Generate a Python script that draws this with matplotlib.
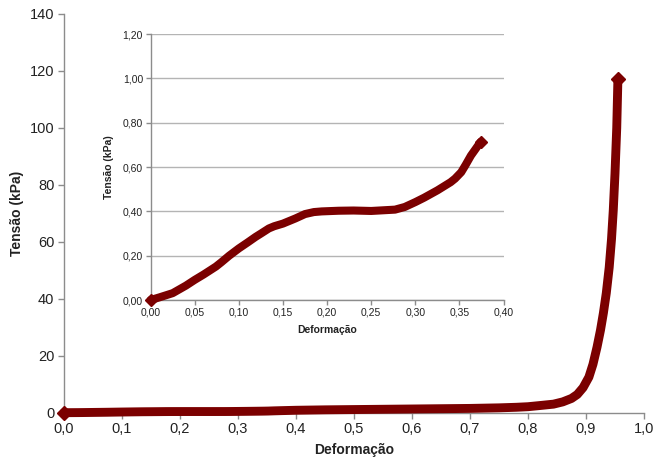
import matplotlib
matplotlib.use("Agg")
import matplotlib.pyplot as plt
from matplotlib.ticker import FuncFormatter, MultipleLocator

plt.rcParams['font.family'] = ['Liberation Sans', 'DejaVu Sans']

# Compression test: strain (-) vs stress (kPa)
strain = [0.000, 0.010, 0.025, 0.040, 0.050, 0.060, 0.074, 0.080, 0.089, 0.100,
          0.110, 0.119, 0.125, 0.134, 0.140, 0.150, 0.164, 0.175, 0.185, 0.194,
          0.213, 0.230, 0.250, 0.277, 0.288, 0.300, 0.310, 0.325, 0.340, 0.345,
          0.352, 0.357, 0.363, 0.368, 0.374,
          0.400, 0.450, 0.500, 0.600, 0.700, 0.750, 0.780, 0.800, 0.820, 0.844,
          0.860, 0.875, 0.885, 0.895, 0.905, 0.912, 0.919, 0.925, 0.930, 0.935,
          0.940, 0.944, 0.947, 0.950, 0.953, 0.955]
stress = [0.000, 0.012, 0.031, 0.065, 0.091, 0.115, 0.151, 0.170, 0.200, 0.233,
          0.260, 0.285, 0.300, 0.323, 0.333, 0.345, 0.368, 0.388, 0.397, 0.400,
          0.403, 0.404, 0.402, 0.408, 0.420, 0.442, 0.462, 0.495, 0.532, 0.548,
          0.577, 0.610, 0.652, 0.680, 0.714,
          0.85, 1.0, 1.1, 1.3, 1.5, 1.7, 1.9, 2.1, 2.5, 3.0,
          3.8, 5.0, 6.4, 8.8, 12.5, 17.0, 23.0, 29.0, 35.0, 42.0,
          51.0, 61.0, 71.0, 84.0, 100.0, 117.0]

# Detail view covers the initial region of the test
detail_limit = 0.375
strain_detail = [s for s in strain if s <= detail_limit]
stress_detail = stress[:len(strain_detail)]

MAROON = '#7b0000'
SPINE = '#8c8c8c'
TEXT = '#222222'


def comma(decimals):
    return FuncFormatter(lambda v, pos: f"{v:.{decimals}f}".replace('.', ','))


fig = plt.figure(figsize=(6.54, 4.65), dpi=100)

# Main axes
ax = fig.add_axes([0.0979, 0.1125, 0.8868, 0.8574])
ax.plot(strain, stress, color=MAROON, lw=6.4, marker='D', ms=7, markevery=[0, -1],
        mec=MAROON, mfc=MAROON, solid_capstyle='round', solid_joinstyle='round',
        clip_on=False, zorder=3)
ax.set_xlim(0, 1.0)
ax.set_ylim(0, 140)
ax.xaxis.set_major_locator(MultipleLocator(0.1))
ax.yaxis.set_major_locator(MultipleLocator(20))
ax.xaxis.set_major_formatter(comma(1))
ax.yaxis.set_major_formatter(FuncFormatter(lambda v, pos: f"{v:.0f}"))
for side in ('top', 'right'):
    ax.spines[side].set_visible(False)
for side in ('left', 'bottom'):
    ax.spines[side].set_color(SPINE)
    ax.spines[side].set_linewidth(1.0)
ax.tick_params(direction='out', length=4, width=1, color=SPINE,
               labelsize=10.5, labelcolor=TEXT, pad=3)
ax.set_xlabel('Deformação', fontsize=10, fontweight='bold', color=TEXT, labelpad=5)
ax.set_ylabel('Tensão (kPa)', fontsize=10, fontweight='bold', color=TEXT, labelpad=4)

# Inset axes with the initial region
axi = fig.add_axes([0.2303, 0.3548, 0.5397, 0.5717])
axi.plot(strain_detail, stress_detail, color=MAROON, lw=5.8, marker='D', ms=6.5,
         markevery=[0, -1], mec=MAROON, mfc=MAROON, solid_capstyle='round',
         solid_joinstyle='round', clip_on=False, zorder=3)
axi.set_xlim(0, 0.40)
axi.set_ylim(0, 1.20)
axi.xaxis.set_major_locator(MultipleLocator(0.05))
axi.yaxis.set_major_locator(MultipleLocator(0.20))
axi.xaxis.set_major_formatter(comma(2))
axi.yaxis.set_major_formatter(comma(2))
axi.grid(axis='y', color='#b4b4b4', lw=1.0)
axi.set_axisbelow(True)
for side in ('top', 'right'):
    axi.spines[side].set_visible(False)
for side in ('left', 'bottom'):
    axi.spines[side].set_color(SPINE)
    axi.spines[side].set_linewidth(1.0)
axi.tick_params(direction='out', length=3.5, width=1, color=SPINE,
                labelsize=7.5, labelcolor=TEXT, pad=2)
axi.set_xlabel('Deformação', fontsize=7.5, fontweight='bold', color=TEXT, labelpad=5)
axi.set_ylabel('Tensão (kPa)', fontsize=7.5, fontweight='bold', color=TEXT, labelpad=6)

fig.savefig('out.png', dpi=100)
